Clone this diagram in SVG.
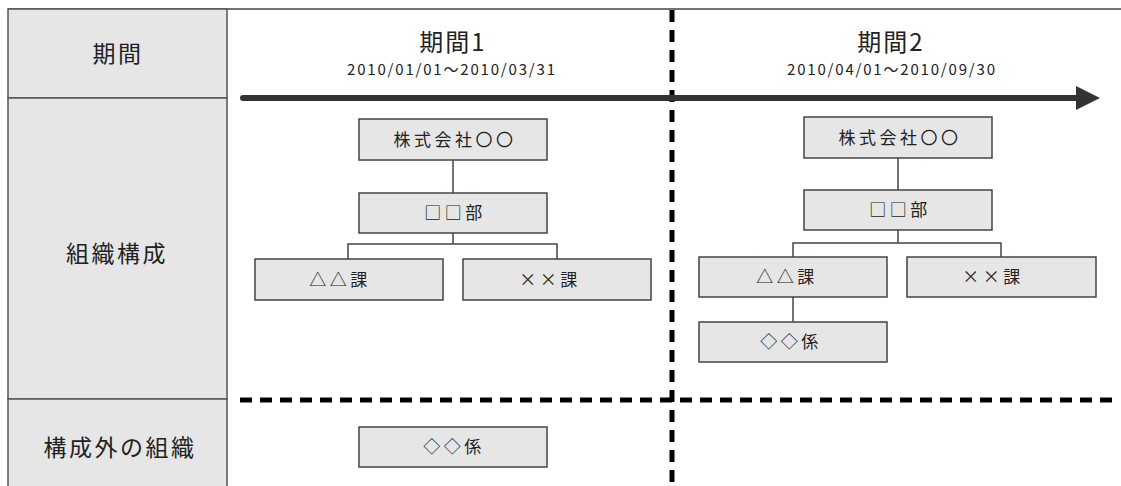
<svg xmlns="http://www.w3.org/2000/svg" width="1121" height="486" viewBox="0 0 1121 486">
<defs>
<style>
.hdr{fill:#e6e6e6;stroke:#555;stroke-width:1.5}
.box{fill:#e6e6e6;stroke:#444;stroke-width:1.5}
.t{font-family:"Noto Sans CJK JP","Noto Sans",sans-serif;fill:#222;text-anchor:middle}
.lbl{font-size:23px;letter-spacing:2.5px}
.bt{font-size:17px;letter-spacing:3.5px}
.title{font-size:24px;letter-spacing:2px}
.date{font-size:15px}
.conn{fill:none;stroke:#444;stroke-width:1.5}
.dash{fill:none;stroke:#000;stroke-width:5;stroke-dasharray:12 8}
</style>
<marker id="ah" markerWidth="5" markerHeight="5" refX="0" refY="2" orient="auto" markerUnits="strokeWidth">
<path d="M0,0 L4,2 L0,4 Z" fill="#333"/>
</marker>
</defs>
<rect width="1121" height="486" fill="#fff"/>
<g id="frame">
<line x1="8" y1="9" x2="1121" y2="9" stroke="#444" stroke-width="1.5"/>
</g>
<g id="hdr-period">
<rect class="hdr" x="8" y="9" width="219" height="89"/>
<text class="t lbl" x="118" y="62">期間</text>
</g>
<g id="hdr-org">
<rect class="hdr" x="8" y="98" width="219" height="301"/>
<text class="t lbl" x="117" y="262">組織構成</text>
</g>
<g id="hdr-outside">
<rect class="hdr" x="8" y="399" width="219" height="90"/>
<text class="t lbl" x="120" y="456">構成外の組織</text>
</g>
<g id="period1">
<text class="t title" x="453" y="51">期間1</text>
<text class="t date" x="451" y="75" textLength="208" lengthAdjust="spacing">2010/01/01～2010/03/31</text>
</g>
<g id="period2">
<text class="t title" x="891" y="51">期間2</text>
<text class="t date" x="891" y="75" textLength="208" lengthAdjust="spacing">2010/04/01～2010/09/30</text>
</g>
<g id="separators">
<line class="dash" x1="672" y1="10" x2="672" y2="486"/>
<line class="dash" x1="240" y1="400" x2="1112" y2="400"/>
</g>
<g id="timeline">
<line x1="243" y1="98" x2="1076" y2="98" stroke="#333" stroke-width="6" stroke-linecap="round" marker-end="url(#ah)"/>
</g>
<g id="connectors">
<path class="conn" d="M453 160 V193"/>
<path class="conn" d="M453 233 V244 M348 259 V244 H557 V259"/>
<path class="conn" d="M898 158 V190"/>
<path class="conn" d="M898 230 V243 M793 257 V243 H1001 V257"/>
<path class="conn" d="M793 297 V322"/>
</g>
<g id="p1-company">
<rect class="box" x="359" y="119" width="188" height="41"/>
<text class="t bt" x="455" y="146">株式会社〇〇</text>
</g>
<g id="p1-dept">
<rect class="box" x="359" y="193" width="188" height="40"/>
<text class="t bt" x="455" y="219">□□部</text>
</g>
<g id="p1-sec-a">
<rect class="box" x="255" y="259" width="188" height="41"/>
<text class="t bt" x="340" y="286">△△課</text>
</g>
<g id="p1-sec-x">
<rect class="box" x="463" y="259" width="188" height="41"/>
<text class="t bt" x="550" y="286">××課</text>
</g>
<g id="p1-outside">
<rect class="box" x="359" y="427" width="188" height="40"/>
<text class="t bt" x="454" y="453">◇◇係</text>
</g>
<g id="p2-company">
<rect class="box" x="804" y="117" width="188" height="41"/>
<text class="t bt" x="900" y="144">株式会社〇〇</text>
</g>
<g id="p2-dept">
<rect class="box" x="804" y="190" width="188" height="40"/>
<text class="t bt" x="900" y="216">□□部</text>
</g>
<g id="p2-sec-a">
<rect class="box" x="699" y="257" width="188" height="40"/>
<text class="t bt" x="787" y="283">△△課</text>
</g>
<g id="p2-sec-x">
<rect class="box" x="907" y="257" width="189" height="40"/>
<text class="t bt" x="993" y="283">××課</text>
</g>
<g id="p2-unit">
<rect class="box" x="699" y="322" width="188" height="40"/>
<text class="t bt" x="791" y="348">◇◇係</text>
</g>
</svg>
